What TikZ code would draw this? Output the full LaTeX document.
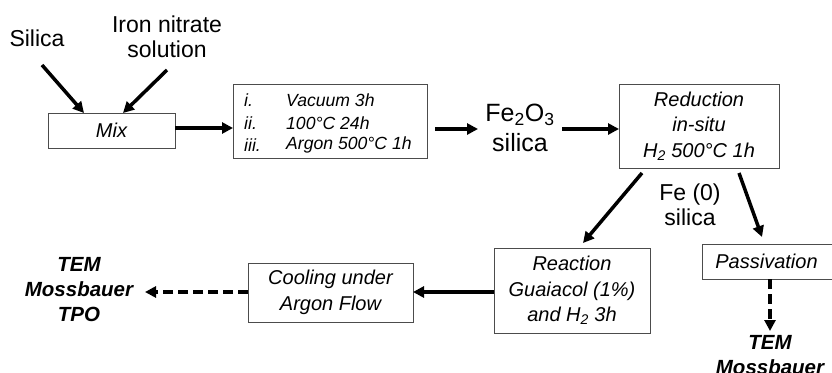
\documentclass[tikz,border=0pt]{standalone}
\usepackage{fontspec}
\setmainfont{Liberation Sans}
\usetikzlibrary{arrows.meta}
\begin{document}
\begin{tikzpicture}[x=1pt,y=-1pt,
  box/.style={draw=black!70,line width=1pt,inner sep=0pt,align=center,font=\fontsize{20}{25.5}\selectfont\itshape},
  lbl/.style={inner sep=0pt,align=center,font=\fontsize{23}{25}\selectfont},
  res/.style={inner sep=0pt,align=center,font=\fontsize{20.5}{25}\selectfont\bfseries\itshape},
  arr/.style={line width=3.5pt,-{Triangle[length=11pt,width=11pt]}},
  darr/.style={arr,dash pattern=on 10pt off 5pt}]
\useasboundingbox (0,0) rectangle (832,372);
% top inputs
\node[lbl] (silica) at (37,38) {Silica};
\node[lbl] (iron) at (167,37) {Iron nitrate\\solution};
\node[box,minimum width=127pt,minimum height=35pt] (mix) at (111.5,130.5) {Mix};
\coordinate (s0) at (42,65);
\coordinate (i0) at (167,70);
\coordinate (s1) at (84,113);
\coordinate (i1) at (123,113);
\draw[arr] (s0) -- (s1);
\draw[arr] (i0) -- (i1);
% conditions
\node[draw=black!70,line width=1pt,minimum width=194pt,minimum height=74pt,inner sep=0pt] (cond) at (330,121) {};
\node[anchor=west,inner sep=0pt,font=\fontsize{17.6}{22.5}\selectfont\itshape] (c1) at (244,100) {i.};
\node[anchor=west,inner sep=0pt,font=\fontsize{17.6}{22.5}\selectfont\itshape] (c2) at (244,123) {ii.};
\node[anchor=west,inner sep=0pt,font=\fontsize{17.6}{22.5}\selectfont\itshape] (c3) at (244,145) {iii.};
\node[anchor=west,inner sep=0pt,font=\fontsize{17.6}{22.5}\selectfont\itshape] (d1) at (286,100) {Vacuum 3h};
\node[anchor=west,inner sep=0pt,font=\fontsize{17.6}{22.5}\selectfont\itshape] (d2) at (286,123) {100°C 24h};
\node[anchor=west,inner sep=0pt,font=\fontsize{17.6}{22.5}\selectfont\itshape] (d3) at (286,145) {Argon 500°C 1h};
\coordinate (m1) at (175,128);
\coordinate (m2) at (233,128);
\draw[arr] (m1) -- (m2);
% Fe2O3
\node[inner sep=0pt,align=center,font=\fontsize{25}{30}\selectfont] (fe2o3) at (520,128) {Fe\textsubscript{2}O\textsubscript{3}\\silica};
\coordinate (f1) at (435,129);
\coordinate (f2) at (478,129);
\coordinate (f3) at (562,129);
\coordinate (f4) at (619,129);
\draw[arr] (f1) -- (f2);
\node[box,minimum width=160pt,minimum height=84pt] (red) at (699,126) {Reduction\\in-situ\\H\textsubscript{2} 500°C 1h};
\draw[arr] (f3) -- (f4);
% Fe(0)
\node[lbl] (fe0) at (690,205) {Fe (0)\\silica};
\node[box,minimum width=156pt,minimum height=85pt] (reac) at (572,290.5) {Reaction\\Guaiacol (1\%)\\and H\textsubscript{2} 3h};
\node[box,minimum width=140pt,minimum height=35pt,anchor=west] (pass) at (702,261.5) {\hspace*{-12pt}Passivation};
\coordinate (r1) at (642,173);
\coordinate (r2) at (583,243);
\coordinate (r3) at (739,173);
\coordinate (r4) at (762,237);
\draw[arr] (r1) -- (r2);
\draw[arr] (r3) -- (r4);
% bottom
\node[box,minimum width=165pt,minimum height=59pt] (cool) at (330.5,292.5) {Cooling under\\Argon Flow};
\coordinate (b1) at (494,292);
\coordinate (b2) at (413,292);
\coordinate (b3) at (248,292);
\coordinate (b4) at (145,292);
\draw[arr] (b1) -- (b2);
\node[res] (tem1) at (79,290) {TEM\\Mossbauer\\TPO};
\draw[darr] (b3) -- (b4);
\node[res] (tem2) at (770,355) {TEM\\Mossbauer};
\coordinate (p1) at (770,279);
\coordinate (p2) at (770,331);
\draw[darr] (p1) -- (p2);
\end{tikzpicture}
\end{document}
